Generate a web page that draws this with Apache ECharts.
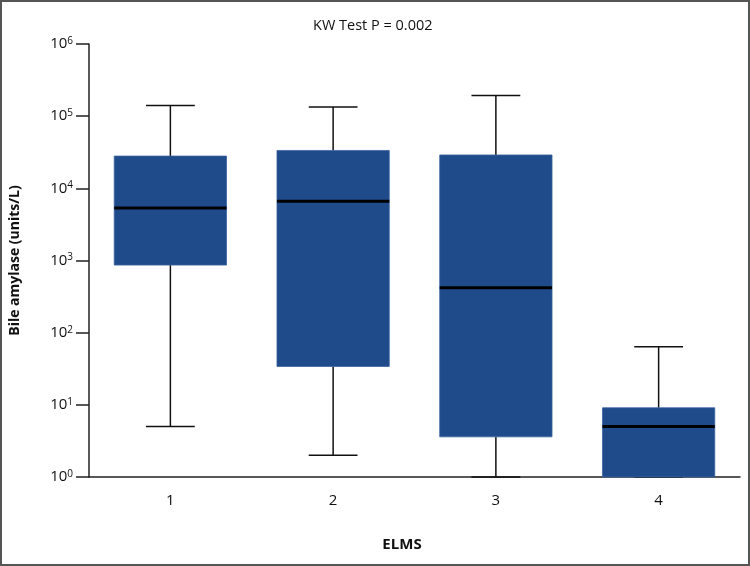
<!DOCTYPE html>
<html>
<head>
<meta charset="utf-8">
<title>Bile amylase by ELMS</title>
<script src="https://cdn.jsdelivr.net/npm/echarts@6/dist/echarts.min.js"></script>
<style>
  html, body { margin: 0; padding: 0; background: #fff; }
  #wrap { position: relative; width: 750px; height: 566px; }
  #myChart { width: 750px; height: 566px; }
  #frame { position: absolute; left: 0; top: 0; width: 750px; height: 566px;
           box-sizing: border-box; border: 2px solid #555; pointer-events: none; }
</style>
</head>
<body>
<div id="wrap">
  <div id="myChart"></div>
  <div id="frame"></div>
</div>
<script type="text/javascript">
  // 数据
  var categories = ['1', '2', '3', '4'];
  var minVals    = [5,      2,      1,      1];
  var q1Vals     = [864,    34,     3.6,    1];
  var medianVals = [5330,   6600,   420,    5];
  var q3Vals     = [28000,  33500,  29000,  9.1];
  var maxVals    = [141000, 134000, 194000, 64];

  var boxData = categories.map(function (c, i) {
    return [i, minVals[i], q1Vals[i], medianVals[i], q3Vals[i], maxVals[i]];
  });

  var font = '"Open Sans", "Noto Sans", sans-serif';

  function renderBox(params, api) {
    var x = api.value(0);
    var pMin = api.coord([x, api.value(1)]);
    var pQ1 = api.coord([x, api.value(2)]);
    var pMed = api.coord([x, api.value(3)]);
    var pQ3 = api.coord([x, api.value(4)]);
    var pMax = api.coord([x, api.value(5)]);
    var band = api.size([1, 0])[0];
    var boxW = band * 0.69;
    var capW = band * 0.30;
    var cx = pMed[0];
    var whisker = { stroke: '#111', lineWidth: 1.5 };
    return {
      type: 'group',
      children: [
        { type: 'line', shape: { x1: cx, y1: pQ3[1], x2: cx, y2: pMax[1] }, style: whisker },
        { type: 'line', shape: { x1: cx - capW / 2, y1: pMax[1], x2: cx + capW / 2, y2: pMax[1] }, style: whisker },
        { type: 'line', shape: { x1: cx, y1: pQ1[1], x2: cx, y2: pMin[1] }, style: whisker },
        { type: 'line', shape: { x1: cx - capW / 2, y1: pMin[1], x2: cx + capW / 2, y2: pMin[1] }, style: whisker },
        {
          type: 'rect',
          shape: { x: cx - boxW / 2, y: pQ3[1], width: boxW, height: pQ1[1] - pQ3[1] },
          style: { fill: '#1f4b8b', stroke: '#3c63a0', lineWidth: 0.8 }
        },
        {
          type: 'line',
          shape: { x1: cx - boxW / 2, y1: pMed[1], x2: cx + boxW / 2, y2: pMed[1] },
          style: { stroke: '#000', lineWidth: 3 }
        }
      ]
    };
  }

  var myChart = echarts.init(document.getElementById('myChart'));
  var option = {
    animation: false,
    backgroundColor: '#fff',
    title: {
      text: 'KW Test P = 0.002',
      left: 308,
      top: 13,
      textStyle: { fontFamily: font, fontSize: 14.5, fontWeight: 'normal', color: '#111' }
    },
    grid: { left: 89, right: 10, top: 44, bottom: 89, containLabel: false, outerBoundsMode: 'none' },
    xAxis: {
      type: 'category',
      data: categories,
      boundaryGap: true,
      name: 'ELMS',
      nameLocation: 'middle',
      nameGap: 60,
      nameTextStyle: { fontFamily: font, fontSize: 15, fontWeight: 'bold', color: '#111', padding: [0, 25, 0, 0] },
      axisLine: { lineStyle: { color: '#222', width: 1.5 } },
      axisTick: { alignWithLabel: true, length: 12, lineStyle: { color: '#222', width: 1.5 } },
      axisLabel: { fontFamily: font, fontSize: 15, color: '#111', margin: 16 },
      splitLine: { show: false }
    },
    yAxis: {
      type: 'log',
      logBase: 10,
      min: 1,
      max: 1000000,
      interval: 1,
      name: 'Bile amylase (units/L)',
      nameLocation: 'middle',
      nameGap: 67,
      nameTextStyle: { fontFamily: font, fontSize: 14, fontWeight: 'bold', color: '#111' },
      axisLine: { show: true, lineStyle: { color: '#222', width: 1.5 } },
      axisTick: { show: true, length: 13, lineStyle: { color: '#222', width: 1.5 } },
      minorTick: { show: false },
      splitLine: { show: false },
      axisLabel: {
        margin: 16,
        formatter: function (v) {
          var e = Math.round(Math.log(v) / Math.LN10);
          return '{b|10}{s|' + e + '}';
        },
        rich: {
          b: { fontFamily: font, fontSize: 15, color: '#111' },
          s: { fontFamily: font, fontSize: 10, color: '#111', padding: [0, 0, 6, 0] }
        }
      }
    },
    series: [{
      type: 'custom',
      renderItem: renderBox,
      encode: { x: 0, y: [1, 2, 3, 4, 5] },
      data: boxData,
      clip: false
    }]
  };
  myChart.setOption(option);
</script>
</body>
</html>
